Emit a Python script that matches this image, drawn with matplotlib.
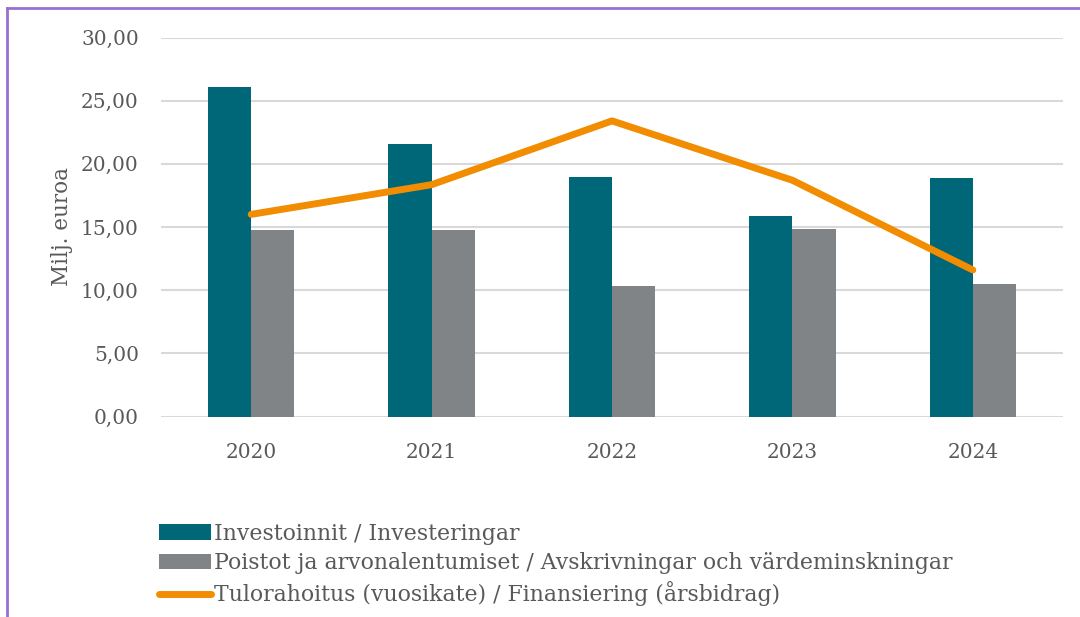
import matplotlib
matplotlib.use("Agg")
import matplotlib.pyplot as plt
from matplotlib.lines import Line2D
import numpy as np

years = ["2020", "2021", "2022", "2023", "2024"]
investments = [26.05, 21.6, 18.95, 15.85, 18.85]
depreciation = [14.8, 14.8, 10.3, 14.85, 10.5]
financing = [16.0, 18.35, 23.4, 18.7, 11.6]

labels = [
    "Investoinnit / Investeringar",
    "Poistot ja arvonalentumiset / Avskrivningar och värdeminskningar",
    "Tulorahoitus (vuosikate) / Finansiering (årsbidrag)",
]

TEAL = "#006778"
GREY = "#818487"
ORANGE = "#F28C00"
TEXT = "#595959"
FONT = ["DejaVu Serif Condensed", "DejaVu Serif"]

plt.rcParams["font.family"] = FONT

fig = plt.figure(figsize=(10.8, 6.17), dpi=100)
ax = fig.add_axes([161 / 1080, 1 - 416.5 / 617, (1063 - 161) / 1080, (416.5 - 37.5) / 617])

x = np.arange(len(years))
w = 0.24
b1 = ax.bar(x - w / 2, investments, w, color=TEAL, label=labels[0], zorder=2)
b2 = ax.bar(x + w / 2, depreciation, w, color=GREY, label=labels[1], zorder=2)
l1, = ax.plot(x, financing, color=ORANGE, lw=5, solid_capstyle="round",
              solid_joinstyle="round", label=labels[2], zorder=3)

ax.set_xlim(-0.5, len(years) - 0.5)
ax.set_ylim(0, 30)
ax.set_yticks(np.arange(0, 31, 5))
ax.set_yticklabels([f"{v:.2f}".replace(".", ",") for v in np.arange(0, 31, 5)])
ax.set_xticks(x)
ax.set_xticklabels(years)
ax.tick_params(axis="both", length=0, labelsize=14.5, labelcolor=TEXT)
ax.tick_params(axis="y", pad=16)
ax.tick_params(axis="x", pad=19)
for s in ax.spines.values():
    s.set_visible(False)
ax.yaxis.grid(True, color="#d9d9d9", lw=1.5, zorder=0)
ax.set_axisbelow(True)
ax.set_ylabel("Milj. euroa", fontsize=15.5, color=TEXT, labelpad=6)

fig.legend(handles=[b1, b2, l1], labels=labels,
           loc="upper left", bbox_to_anchor=(150 / 1080, 1 - 514 / 617),
           frameon=False, fontsize=15.8, labelcolor=TEXT, handlelength=2.4,
           handletextpad=0.1, labelspacing=0.33, borderaxespad=0)

# purple frame around the chart (top and left edges visible)
purple = "#9B6FD0"
fig.add_artist(Line2D([7 / 1080, 1], [1 - 8 / 617, 1 - 8 / 617], color=purple, lw=2))
fig.add_artist(Line2D([7 / 1080, 7 / 1080], [0, 1 - 8 / 617], color=purple, lw=2))

fig.savefig("out.png", dpi=100)
